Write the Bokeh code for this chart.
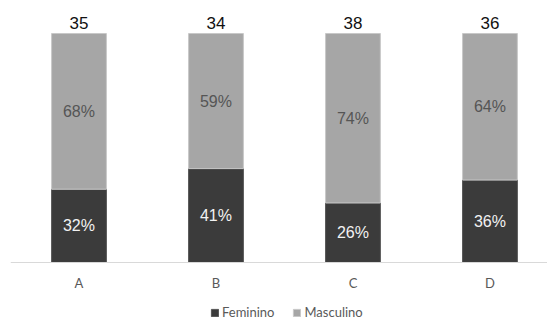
from bokeh.plotting import figure
from bokeh.models import ColumnDataSource, Range1d, Legend, LegendItem, LabelSet, Span
from bokeh.core.properties import value
from bokeh.embed import file_html
from bokeh.resources import INLINE

categories = ["A", "B", "C", "D"]
feminino = [32, 41, 26, 36]
masculino = [68, 59, 74, 64]
totals = [35, 34, 38, 36]

x = list(range(len(categories)))
fem_frac = [f / 100 for f in feminino]
masc_frac = [m / 100 for m in masculino]
src = ColumnDataSource(dict(
    x=x, fem=fem_frac, masc=masc_frac,
    base=[0] * len(x),
    cat=categories,
    fem_mid=[f / 2 for f in fem_frac],
    masc_mid=[f + m / 2 for f, m in zip(fem_frac, masc_frac)],
    top=[f + m for f, m in zip(fem_frac, masc_frac)],
    fem_lbl=[f"{v}%" for v in feminino],
    masc_lbl=[f"{v}%" for v in masculino],
    tot_lbl=[str(t) for t in totals],
))

p = figure(width=547, height=320, output_backend="svg", toolbar_location=None,
           x_range=Range1d(-0.5, 3.42), y_range=Range1d(-0.2533, 1.1441),
           min_border_left=10, min_border_right=0, min_border_top=0, min_border_bottom=0)
p.outline_line_color = None
p.grid.grid_line_color = None
p.xaxis.visible = False
p.yaxis.visible = False
p.background_fill_color = "white"
p.border_fill_color = "white"

rs = p.vbar_stack(["fem", "masc"], x="x", width=0.4, source=src,
                  color=["#3b3b3b", "#a6a6a6"], line_color=["#555555", "#c8c8c8"], line_width=1)

# baseline (category axis line)
p.add_layout(Span(location=0, dimension="width", line_color="#d9d9d9", line_width=1))

num_font = value("Liberation Sans")
p.add_layout(LabelSet(x="x", y="masc_mid", text="masc_lbl", source=src, text_align="center",
                      text_baseline="middle", text_font=num_font, text_font_size="16px",
                      text_color="#555555"))
p.add_layout(LabelSet(x="x", y="fem_mid", text="fem_lbl", source=src, text_align="center",
                      text_baseline="middle", text_font=num_font, text_font_size="16px",
                      text_color="#f2f2f2"))
p.add_layout(LabelSet(x="x", y="top", text="tot_lbl", source=src, text_align="center",
                      text_baseline="alphabetic", y_offset=4, text_font=num_font,
                      text_font_size="17px", text_color="#111111"))
# category labels
p.add_layout(LabelSet(x="x", y="base", text="cat", source=src, text_align="center",
                      text_baseline="middle", y_offset=-21, text_font=value("Lato"),
                      text_font_size="13px", text_color="#595959"))

legend = Legend(items=[LegendItem(label="Feminino", renderers=[rs[0]]),
                       LegendItem(label="Masculino", renderers=[rs[1]])],
                orientation="horizontal", location=(200, 0),
                border_line_color=None, background_fill_alpha=0,
                padding=0, margin=0, spacing=18,
                glyph_width=9, glyph_height=9, label_standoff=3,
                label_text_font="Lato", label_text_font_size="13px", label_text_color="#595959",
                label_height=12)
p.add_layout(legend)

open("out.html", "w").write(file_html(p, INLINE))
